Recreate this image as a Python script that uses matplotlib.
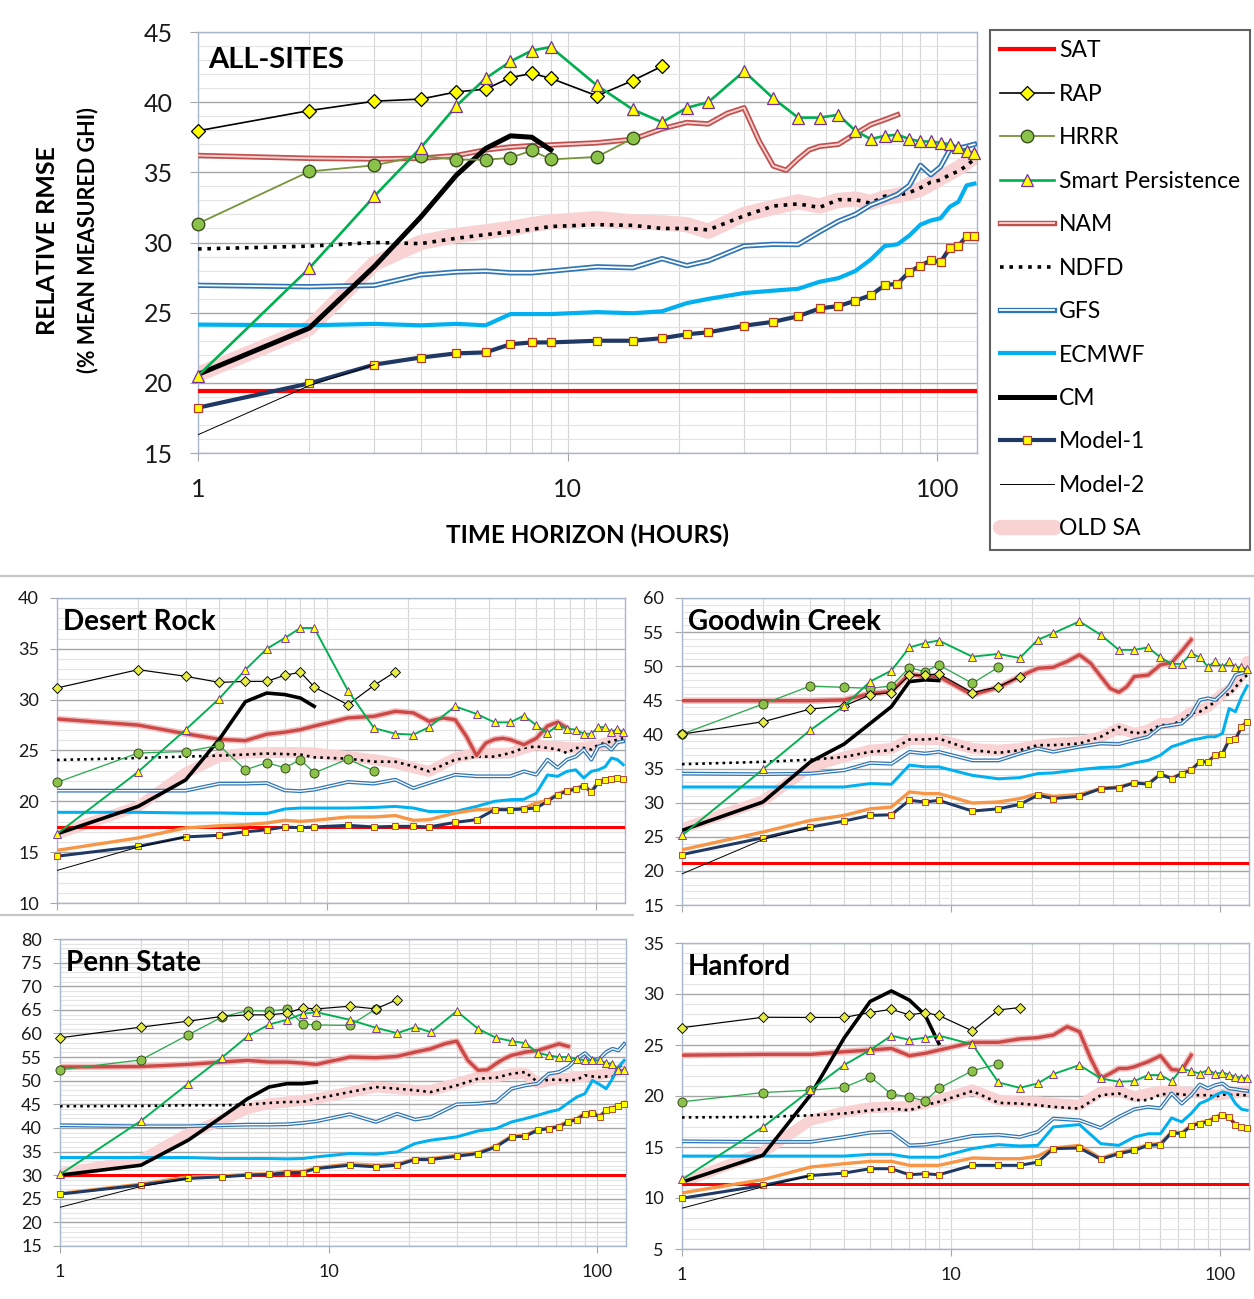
import matplotlib
matplotlib.use('Agg')
import matplotlib.pyplot as plt
import matplotlib.patheffects as pe
from matplotlib.lines import Line2D
from matplotlib.ticker import FixedLocator, MultipleLocator, NullFormatter

plt.rcParams['font.family'] = ['Lato', 'DejaVu Sans']

# forecast horizons (hours) used by each kind of series
h_cm = [1, 2, 3, 4, 5, 6, 7, 8, 9]
h_rap = [1, 2, 3, 4, 5, 6, 7, 8, 9, 12, 15, 18]
h_hrrr = [1, 2, 3, 4, 5, 6, 7, 8, 9, 12, 15]
h_nam = [1, 2, 3, 4, 5, 6, 7, 8, 9, 12, 15, 18, 21, 24, 27, 30, 33, 36, 39, 42, 45, 48,
         54, 60, 66, 72, 78]
h_long = [1, 2, 3, 4, 5, 6, 7, 8, 9, 12, 15, 18, 21, 24, 30, 36, 42, 48, 54, 60, 66, 72,
          78, 84, 90, 96, 102, 108, 114, 120, 126]
h_m2 = [1, 2, 3]

# ---- ALL-SITES ----
all_sat = 19.4
all_rap = [37.96, 39.4, 40.07, 40.22, 40.73, 40.93, 41.75, 42.05, 41.7, 40.45, 41.54, 42.56]
all_hrrr = [31.35, 35.06, 35.5, 36.18, 35.9, 35.9, 36.03, 36.56, 35.92, 36.1, 37.42]
all_sp = [20.5, 28.17, 33.3, 36.74, 39.74, 41.7, 42.9, 43.68, 43.93, 41.19, 39.48, 38.57,
          39.6, 40.0, 42.2, 40.27, 38.9, 38.9, 39.1, 37.96, 37.37, 37.6, 37.68, 37.37, 37.2,
          37.2, 37.1, 37.0, 36.8, 36.5, 36.35]
all_nam = [36.2, 36.0, 35.95, 36.0, 36.2, 36.6, 36.8, 36.9, 36.95, 37.1, 37.35, 38.1, 38.55,
           38.45, 39.2, 39.6, 37.2, 35.45, 35.15, 35.95, 36.6, 36.85, 37.0, 37.75, 38.4,
           38.75, 39.1]
all_ndfd = [29.54, 29.74, 30.0, 29.92, 30.3, 30.56, 30.76, 30.94, 31.14, 31.27, 31.22, 31.0,
            31.0, 30.9, 31.9, 32.6, 32.75, 32.5, 33.05, 33.05, 32.8, 33.3, 33.36, 33.56,
            33.9, 34.3, 34.45, 34.83, 35.08, 35.47, 35.97]
all_gfs = [26.95, 26.85, 26.95, 27.7, 27.9, 27.96, 27.84, 27.84, 27.96, 28.27, 28.2, 28.85,
           28.35, 28.7, 29.75, 29.87, 29.85, 30.76, 31.52, 32.0, 32.67, 33.05, 33.43, 34.07,
           35.5, 34.83, 35.4, 36.6, 36.7, 36.85, 37.0]
all_ecmwf = [24.15, 24.1, 24.2, 24.1, 24.2, 24.1, 24.9, 24.9, 24.9, 25.04, 24.96, 25.1, 25.68,
             25.98, 26.4, 26.57, 26.7, 27.2, 27.46, 27.97, 28.78, 29.75, 29.87, 30.5, 31.27,
             31.57, 31.73, 32.54, 32.9, 34.07, 34.2]
all_cm = [20.6, 23.9, 28.3, 31.8, 34.8, 36.7, 37.6, 37.5, 36.6]
all_m1 = [18.23, 19.96, 21.3, 21.8, 22.1, 22.17, 22.75, 22.88, 22.88, 23.0, 23.0, 23.18,
          23.46, 23.6, 24.07, 24.35, 24.74, 25.3, 25.47, 25.85, 26.24, 26.95, 27.07, 27.9,
          28.35, 28.73, 28.6, 29.6, 29.75, 30.44, 30.44]
all_m2 = [16.3, 19.8, 21.3]
all_oldsa = [20.6, 23.9, 28.5, 30.0, 30.5, 30.76, 31.0, 31.27, 31.47, 31.7, 31.47, 31.4,
             31.27, 30.8, 32.0, 32.5, 32.9, 32.6, 33.0, 33.1, 32.85, 33.2, 33.35, 33.55,
             33.8, 34.2, 34.6, 34.96, 35.3, 35.7, 36.1]

# ---- Desert Rock ----
dr_sat = 17.5
dr_rap = [31.15, 32.95, 32.3, 31.7, 31.8, 31.8, 32.4, 32.7, 31.25, 29.5, 31.4, 32.75]
dr_hrrr = [21.87, 24.75, 24.9, 25.5, 23.1, 23.8, 23.3, 24.1, 22.8, 24.16, 23.0]
dr_sp = [16.8, 22.9, 27.05, 30.1, 32.95, 35.0, 36.07, 37.05, 37.05, 30.9, 27.2, 26.65, 26.56,
         27.3, 29.34, 28.6, 27.77, 27.77, 28.43, 27.48, 26.7, 27.48, 27.15, 27.05, 26.65,
         26.65, 27.3, 27.3, 26.8, 27.15, 26.8]
dr_nam = [28.1, 27.5, 26.65, 26.1, 25.97, 26.6, 26.8, 27.05, 27.4, 28.2, 28.36, 28.85, 28.7,
          27.87, 28.2, 28.03, 26.4, 24.5, 25.74, 26.1, 26.2, 26.07, 25.57, 26.2, 27.4, 27.8,
          27.2]
dr_ndfd = [24.07, 24.26, 24.4, 24.5, 24.6, 24.7, 24.65, 24.6, 24.33, 24.2, 23.9, 23.9, 23.44,
           22.95, 24.1, 24.4, 24.4, 24.75, 25.25, 25.4, 25.25, 25.1, 24.75, 25.25, 25.25,
           25.1, 25.57, 25.74, 25.9, 26.07, 26.2]
dr_gfs = [21.05, 21.05, 21.05, 21.74, 21.74, 21.8, 21.08, 21.0, 21.15, 21.9, 21.74, 22.13,
          21.3, 21.8, 22.62, 22.46, 22.46, 22.46, 22.95, 22.62, 24.1, 23.3, 24.1, 24.4, 25.08,
          24.1, 25.4, 25.57, 25.08, 25.8, 25.9]
dr_ecmwf = [18.92, 18.92, 18.85, 18.85, 18.8, 18.8, 19.25, 19.34, 19.34, 19.34, 19.4, 19.5,
            19.34, 19.0, 19.0, 19.5, 20.0, 20.16, 20.2, 20.8, 22.6, 22.46, 22.95, 23.1, 22.3,
            22.95, 23.1, 23.4, 24.26, 24.1, 23.6]
dr_cm = [16.8, 19.5, 22.1, 26.1, 29.8, 30.65, 30.5, 30.16, 29.34]
dr_m1 = [14.6, 15.57, 16.5, 16.66, 17.0, 17.2, 17.48, 17.4, 17.48, 17.64, 17.48, 17.54, 17.54,
         17.48, 17.93, 18.2, 19.18, 19.18, 19.25, 19.34, 20.0, 20.66, 21.0, 21.2, 21.54, 20.9,
         21.87, 22.13, 22.2, 22.3, 22.23]
dr_m3 = [15.18, 16.4, 17.38, 17.6, 17.7, 17.87, 18.13, 18.03, 18.13, 18.46, 18.46, 18.6,
         18.13, 18.2, 18.85, 19.18, 19.25, 19.25, 19.34, 19.84, 20.1, 20.75, 21.1, 21.3, 21.6,
         21.0, 21.95, 22.2, 22.3, 22.35, 22.3]
dr_m2 = [13.2, 15.5, 16.5]
dr_oldsa = [16.8, 19.5, 22.8, 24.4, 24.75, 24.8, 24.8, 24.8, 24.75, 24.4, 24.1, 23.76, 23.3,
            22.95, 24.26, 24.75, 24.7, 24.75, 25.2, 25.57, 25.4, 25.4, 25.3, 25.25, 25.3,
            25.4, 25.5, 25.74, 25.9, 26.07, 26.4]

# ---- Goodwin Creek ----
gc_sat = 21.2
gc_rap = [40.05, 41.86, 43.73, 44.17, 45.8, 46.13, 48.7, 48.7, 48.87, 46.13, 47.0, 48.48]
gc_hrrr = [40.05, 44.46, 47.1, 46.9, 46.76, 47.1, 49.8, 49.2, 50.2, 47.5, 49.85]
gc_sp = [25.2, 34.9, 40.64, 44.17, 47.75, 49.36, 52.75, 53.4, 53.77, 51.4, 51.8, 51.2, 53.87,
         54.85, 56.57, 54.6, 52.4, 52.4, 52.75, 51.3, 50.34, 50.34, 51.9, 51.3, 49.95, 50.7,
         49.85, 50.7, 49.85, 49.85, 49.56]
gc_nam = [44.95, 44.95, 44.95, 45.05, 46.0, 46.27, 48.87, 48.48, 48.48, 45.8, 46.9, 48.48,
          49.7, 49.85, 50.7, 51.67, 50.44, 48.5, 46.76, 46.18, 47.0, 48.5, 48.7, 50.2, 50.5,
          52.2, 53.87]
gc_ndfd = [35.64, 35.98, 36.3, 36.7, 37.45, 37.7, 39.26, 39.26, 39.4, 37.7, 37.3, 37.7, 38.43,
           38.43, 38.67, 39.66, 41.1, 40.15, 40.4, 41.37, 41.37, 42.1, 43.1, 43.33, 44.07,
           44.8, 46.0, 45.8, 46.9, 48.0, 48.7]
gc_gfs = [34.26, 34.17, 34.26, 34.75, 35.83, 35.7, 37.45, 37.2, 37.45, 36.2, 36.2, 37.2, 37.94,
          37.45, 38.2, 38.67, 38.58, 39.17, 39.66, 41.1, 41.37, 41.6, 42.84, 45.05, 45.3,
          45.05, 46.0, 47.0, 48.7, 48.97, 49.2]
gc_ecmwf = [32.3, 32.3, 32.3, 32.3, 32.8, 32.7, 35.5, 35.25, 35.25, 34.0, 33.5, 33.67, 34.26,
            34.36, 34.85, 35.15, 35.25, 35.83, 36.2, 36.96, 38.2, 38.67, 39.17, 39.4, 39.66,
            39.66, 40.15, 43.8, 43.33, 45.5, 47.1]
gc_cm = [25.93, 30.1, 35.98, 38.58, 41.6, 44.07, 47.75, 48.0, 47.9]
gc_m1 = [22.4, 24.85, 26.42, 27.3, 28.13, 28.23, 30.34, 30.1, 30.34, 28.77, 29.1, 29.75,
         31.08, 30.6, 30.93, 32.06, 32.2, 32.9, 32.7, 34.17, 33.53, 34.26, 34.75, 35.98,
         35.98, 36.96, 37.2, 39.17, 39.26, 41.1, 41.86]
gc_m3 = [23.1, 25.7, 27.4, 28.13, 29.1, 29.36, 31.57, 31.33, 31.33, 29.95, 30.1, 30.6, 31.33,
         30.93, 31.2, 32.06, 32.3, 32.95, 32.8, 34.2, 33.6, 34.3, 34.8, 36.0, 36.0, 37.0,
         37.25, 39.2, 39.3, 41.15, 41.9]
gc_m2 = [19.56, 24.6, 26.4]
gc_oldsa = [26.2, 30.3, 35.25, 36.7, 37.7, 37.94, 39.26, 39.26, 39.26, 37.94, 37.7, 37.94,
            38.43, 38.67, 38.9, 39.66, 40.9, 40.15, 40.64, 41.6, 41.6, 42.3, 43.3, 43.57,
            44.07, 45.05, 46.0, 46.5, 47.5, 48.7, 50.7]

# ---- Penn State ----
ps_sat = 30.0
ps_rap = [59.08, 61.34, 62.6, 63.6, 63.94, 63.94, 64.3, 65.4, 65.2, 65.77, 65.2, 67.18]
ps_hrrr = [52.3, 54.4, 59.7, 63.45, 64.86, 64.7, 65.2, 62.0, 61.8, 61.7, 65.2]
ps_sp = [30.14, 41.48, 49.37, 54.86, 59.44, 61.9, 62.89, 64.15, 64.5, 62.9, 61.2, 60.07, 61.34,
         60.28, 64.72, 61.0, 59.08, 58.38, 57.96, 55.9, 55.35, 55.0, 55.0, 54.65, 54.3, 54.4,
         54.3, 53.73, 53.6, 52.3, 52.2]
ps_nam = [52.9, 53.0, 53.45, 53.94, 54.3, 53.94, 53.94, 53.73, 53.45, 55.0, 54.86, 55.14,
          56.06, 56.76, 57.8, 58.38, 54.3, 52.2, 52.3, 53.6, 54.65, 55.35, 56.06, 56.4, 57.1,
          57.8, 57.25]
ps_ndfd = [44.58, 44.65, 44.8, 44.8, 44.93, 45.28, 45.5, 45.5, 46.2, 47.6, 48.66, 48.3, 47.96,
           47.6, 49.0, 50.42, 50.63, 51.48, 51.83, 49.7, 50.2, 50.2, 50.07, 50.2, 51.13, 50.9,
           50.77, 50.9, 50.77, 52.9, 53.6]
ps_gfs = [40.56, 40.35, 40.35, 40.56, 40.7, 40.7, 40.77, 41.06, 41.4, 42.9, 41.27, 43.0,
          41.76, 42.3, 45.0, 45.14, 45.5, 48.3, 49.0, 49.37, 51.48, 51.83, 52.9, 54.65, 55.85,
          54.3, 54.65, 56.06, 56.76, 56.4, 57.8]
ps_ecmwf = [33.73, 33.73, 33.73, 33.52, 33.52, 33.52, 33.45, 33.52, 33.87, 34.58, 34.44,
            34.93, 36.7, 37.4, 38.1, 39.37, 39.86, 41.27, 41.97, 42.68, 43.38, 43.87, 45.28,
            46.55, 47.25, 50.07, 49.2, 48.3, 50.42, 52.9, 54.3]
ps_cm = [30.0, 32.1, 37.4, 42.3, 46.2, 48.66, 49.37, 49.37, 49.7]
ps_m1 = [25.99, 27.9, 29.3, 29.65, 30.0, 30.14, 30.5, 30.56, 31.4, 32.1, 31.76, 32.1, 33.3,
         33.3, 34.0, 34.58, 35.99, 38.1, 38.24, 39.5, 39.86, 40.2, 41.27, 41.76, 43.0, 43.17,
         42.3, 43.7, 44.1, 44.58, 45.14]
ps_m3 = [26.1, 28.1, 29.65, 29.8, 30.2, 30.3, 30.8, 30.8, 31.55, 32.4, 32.1, 32.3, 33.5, 33.5,
         34.2, 34.8, 36.2, 38.3, 38.4, 39.7, 40.0, 40.4, 41.5, 42.0, 43.2, 43.4, 42.5, 43.9,
         44.3, 44.8, 45.4]
ps_m2 = [23.2, 27.6, 29.3]
ps_oldsa = [30.35, 33.2, 38.8, 41.6, 44.1, 45.14, 45.5, 45.8, 46.2, 47.6, 48.66, 48.3, 47.96,
            47.96, 49.37, 50.8, 50.8, 51.48, 51.48, 49.5, 50.0, 50.4, 50.5, 50.8, 50.9, 51.1,
            51.2, 51.48, 51.8, 52.18, 52.9]

# ---- Hanford ----
hf_sat = 11.4
hf_rap = [26.7, 27.72, 27.7, 27.7, 28.18, 28.5, 27.95, 28.18, 27.9, 26.38, 28.44, 28.67]
hf_hrrr = [19.43, 20.34, 20.57, 20.84, 21.9, 20.18, 19.92, 19.5, 20.74, 22.48, 23.13]
hf_sp = [11.82, 16.97, 20.57, 23.03, 24.5, 25.92, 25.5, 25.72, 25.92, 25.07, 21.33, 20.8,
         21.23, 22.15, 23.03, 21.72, 21.4, 21.46, 22.05, 22.05, 21.46, 22.7, 22.44, 22.2,
         22.54, 22.2, 22.3, 22.1, 21.9, 21.8, 21.72]
hf_nam = [24.0, 24.08, 24.08, 24.34, 24.5, 24.67, 23.95, 24.18, 24.5, 25.26, 25.26, 25.6,
          25.72, 25.98, 26.8, 26.3, 23.7, 21.72, 22.2, 22.7, 22.7, 22.87, 23.36, 23.95, 22.6,
          22.5, 24.0]
hf_ndfd = [17.9, 17.95, 18.1, 18.28, 18.6, 18.77, 18.6, 19.1, 19.43, 20.48, 19.33, 19.26,
           19.1, 18.93, 18.77, 20.08, 20.25, 19.6, 19.6, 20.15, 20.25, 20.15, 20.08, 20.08,
           20.08, 19.92, 20.15, 20.08, 20.15, 20.08, 20.08]
hf_gfs = [15.56, 15.5, 15.5, 15.98, 16.41, 16.48, 15.16, 15.23, 15.43, 16.08, 16.2, 15.98,
          16.48, 17.79, 17.62, 16.87, 17.95, 18.7, 18.93, 18.8, 20.25, 19.26, 20.08, 21.13,
          20.74, 21.07, 21.23, 20.74, 20.67, 20.57, 20.5]
hf_ecmwf = [14.11, 14.11, 14.11, 14.11, 14.28, 14.28, 14.0, 14.0, 14.0, 14.84, 15.23, 15.1,
            15.16, 16.97, 17.2, 15.33, 15.16, 15.98, 16.3, 16.3, 17.85, 17.46, 18.28, 19.26,
            19.6, 20.08, 20.4, 20.25, 19.26, 18.7, 18.6]
hf_cm = [11.56, 14.2, 20.08, 25.66, 29.26, 30.3, 29.4, 27.95, 25.16]
hf_m1 = [9.98, 11.23, 12.2, 12.44, 12.87, 12.87, 12.28, 12.38, 12.28, 13.2, 13.2, 13.2, 13.52,
         14.84, 14.9, 13.8, 14.34, 14.67, 15.16, 15.23, 16.41, 16.3, 17.07, 17.3, 17.46,
         17.89, 18.18, 17.95, 17.13, 16.97, 16.87]
hf_m3 = [10.5, 11.8, 13.03, 13.36, 13.59, 13.59, 13.2, 13.2, 13.2, 13.92, 13.85, 13.85, 14.1,
         14.9, 15.16, 13.9, 14.45, 14.8, 15.25, 15.35, 16.5, 16.4, 17.15, 17.4, 17.55, 17.95,
         18.25, 18.0, 17.2, 17.0, 16.9]
hf_m2 = [9.0, 11.1, 12.2]
hf_oldsa = [11.56, 14.5, 17.62, 18.44, 18.84, 18.93, 18.95, 19.26, 19.6, 20.6, 19.6, 19.43,
            19.43, 19.26, 19.1, 20.4, 20.48, 19.92, 20.25, 20.48, 20.45, 20.4, 20.35, 20.3,
            20.2, 20.08, 20.15, 20.25, 20.3, 20.48, 20.48]

W, H = 1254, 1299


def box(left, top, right, bottom):
    return [left / W, 1 - bottom / H, (right - left) / W, (bottom - top) / H]


def draw_site(ax, s, big):
    k = 1.0 if big else 0.72
    out = {}
    out['OLD SA'], = ax.plot(h_long, s['oldsa'], color='#F9D3D3', lw=11 * k,
                             solid_capstyle='round', zorder=2)
    out['SAT'] = ax.axhline(s['sat'], color='#FF0000', lw=3.0 * k, zorder=3)
    out['NDFD'], = ax.plot(h_long, s['ndfd'], color='black', lw=2.6 * k,
                           ls=(0, (1, 1.6)), zorder=4)
    out['GFS'], = ax.plot(h_long, s['gfs'], color='white', lw=1.3 * k, zorder=4,
                          path_effects=[pe.Stroke(linewidth=3.8 * k, foreground='#2E75B6'),
                                        pe.Normal()])
    out['ECMWF'], = ax.plot(h_long, s['ecmwf'], color='#00B0F0', lw=3.0 * k, zorder=4)
    if big:
        out['NAM'], = ax.plot(h_nam, s['nam'], color='#F7CFCF', lw=1.4, zorder=5,
                              path_effects=[pe.Stroke(linewidth=3.9, foreground='#C0504D'),
                                            pe.Normal()])
    else:
        ax.plot(h_nam, s['nam'], color='#CB4A48', lw=2.4, zorder=5,
                path_effects=[pe.Stroke(linewidth=4.6, foreground='#F1BDBD'), pe.Normal()])
        ax.plot(h_long, s['m3'], color='#F79646', lw=2.4, zorder=5)
    out['Model-1'], = ax.plot(h_long, s['m1'], color='#1F3864', lw=3.0 * k, marker='s',
                              ms=5.5 * k, mfc='#FFFF00', mec='#B03A2E', mew=0.9 * k,
                              zorder=6, clip_on=False)
    out['Model-2'], = ax.plot(h_m2, s['m2'], color='black', lw=0.7, zorder=6)
    out['CM'], = ax.plot(h_cm, s['cm'], color='black', lw=3.6 * k, zorder=7)
    out['HRRR'], = ax.plot(h_hrrr, s['hrrr'], color='#77933C' if big else '#2EA84F',
                           lw=1.3 * k, marker='o', ms=9 * k, mfc='#8BC34A',
                           mec='#3B4F1C', mew=1.0 * k, zorder=8, clip_on=False)
    out['RAP'], = ax.plot(h_rap, s['rap'], color='black', lw=1.2 * k, marker='D',
                          ms=7.5 * k, mfc='#FFFF00' if big else '#E4EC45', mec='black',
                          mew=0.9 * k, zorder=8, clip_on=False)
    out['Smart Persistence'], = ax.plot(h_long, s['sp'], color='#00B050', lw=1.9 * k,
                                        marker='^', ms=8.5 * k, mfc='#FFFF00',
                                        mec='#7030A0', mew=0.9 * k, zorder=9,
                                        clip_on=False)
    return out


def style_axes(ax, ylo, yhi, minor_step, big):
    ax.set_xscale('log')
    ax.set_xlim(1, 128)
    ax.set_ylim(ylo, yhi)
    ax.yaxis.set_major_locator(MultipleLocator(5))
    ax.yaxis.set_minor_locator(MultipleLocator(minor_step))
    ax.xaxis.set_major_locator(FixedLocator([1, 10, 100]))
    ax.xaxis.set_minor_locator(FixedLocator([2, 3, 4, 5, 6, 7, 8, 9,
                                             20, 30, 40, 50, 60, 70, 80, 90]))
    ax.xaxis.set_minor_formatter(NullFormatter())
    ax.set_xticklabels(['1', '10', '100'])
    ax.set_axisbelow(True)
    ax.grid(which='major', axis='y', color='#A6A6A6', lw=1.0)
    ax.grid(which='minor', axis='y', color='#E4E4E4', lw=0.8)
    ax.grid(which='both', axis='x', color='#D6D6D6', lw=0.8)
    for sp in ax.spines.values():
        sp.set_color('#A9B7CC')
        sp.set_linewidth(1.0)
    fs = 18 if big else 13
    ax.tick_params(which='minor', length=0)
    ax.tick_params(which='major', direction='out', length=6 if big else 5,
                   color='#A6A6A6', labelsize=fs, labelcolor='#1A1A1A',
                   pad=12 if big else 8)


sites = {
    'all': dict(sat=all_sat, rap=all_rap, hrrr=all_hrrr, sp=all_sp, nam=all_nam,
                ndfd=all_ndfd, gfs=all_gfs, ecmwf=all_ecmwf, cm=all_cm, m1=all_m1,
                m2=all_m2, oldsa=all_oldsa),
    'dr': dict(sat=dr_sat, rap=dr_rap, hrrr=dr_hrrr, sp=dr_sp, nam=dr_nam, ndfd=dr_ndfd,
               gfs=dr_gfs, ecmwf=dr_ecmwf, cm=dr_cm, m1=dr_m1, m2=dr_m2, m3=dr_m3,
               oldsa=dr_oldsa),
    'gc': dict(sat=gc_sat, rap=gc_rap, hrrr=gc_hrrr, sp=gc_sp, nam=gc_nam, ndfd=gc_ndfd,
               gfs=gc_gfs, ecmwf=gc_ecmwf, cm=gc_cm, m1=gc_m1, m2=gc_m2, m3=gc_m3,
               oldsa=gc_oldsa),
    'ps': dict(sat=ps_sat, rap=ps_rap, hrrr=ps_hrrr, sp=ps_sp, nam=ps_nam, ndfd=ps_ndfd,
               gfs=ps_gfs, ecmwf=ps_ecmwf, cm=ps_cm, m1=ps_m1, m2=ps_m2, m3=ps_m3,
               oldsa=ps_oldsa),
    'hf': dict(sat=hf_sat, rap=hf_rap, hrrr=hf_hrrr, sp=hf_sp, nam=hf_nam, ndfd=hf_ndfd,
               gfs=hf_gfs, ecmwf=hf_ecmwf, cm=hf_cm, m1=hf_m1, m2=hf_m2, m3=hf_m3,
               oldsa=hf_oldsa),
}

fig = plt.figure(figsize=(W / 100, H / 100), dpi=100)

# main panel
ax0 = fig.add_axes(box(198, 32, 977, 453))
handles = draw_site(ax0, sites['all'], True)
style_axes(ax0, 15, 45, 1, True)
ax0.text(0.013, 0.965, 'ALL-SITES', transform=ax0.transAxes, fontsize=21,
         fontweight='bold', va='top', ha='left')
ax0.set_xlabel('TIME HORIZON (HOURS)', fontsize=17.5, fontweight='bold', labelpad=16)
fig.text(48 / W, 1 - 241 / H, 'RELATIVE RMSE', rotation=90, fontsize=18,
         fontweight='bold', ha='center', va='center')
fig.text(88 / W, 1 - 240 / H, '(% MEAN MEASURED GHI)', rotation=90, fontsize=15.5,
         fontweight='bold', ha='center', va='center')

order = ['SAT', 'RAP', 'HRRR', 'Smart Persistence', 'NAM', 'NDFD', 'GFS', 'ECMWF', 'CM',
         'Model-1', 'Model-2', 'OLD SA']
leg = fig.legend([handles[n] for n in order], order, loc='upper left',
                 bbox_to_anchor=(990 / W, 1 - 30 / H), frameon=True, fancybox=False,
                 edgecolor='#3A3A3A', fontsize=16.5, handlelength=2.35, handletextpad=0.2,
                 labelspacing=0.98, borderpad=0.45, borderaxespad=0, numpoints=1)
leg.get_frame().set_linewidth(1.5)

# site panels
panels = [
    ('dr', 'Desert Rock', box(57, 598, 625, 903), 10, 40, 1, False),
    ('gc', 'Goodwin Creek', box(682, 598, 1249, 905), 15, 60, 1, False),
    ('ps', 'Penn State', box(60, 939, 626, 1246), 15, 80, 1, True),
    ('hf', 'Hanford', box(682, 943, 1249, 1249), 5, 35, 1, True),
]
for key, title, rect, ylo, yhi, mstep, show_x in panels:
    ax = fig.add_axes(rect)
    draw_site(ax, sites[key], False)
    style_axes(ax, ylo, yhi, mstep, False)
    if not show_x:
        ax.set_xticklabels([])
    ax.text(0.01, 0.965, title, transform=ax.transAxes, fontsize=20, fontweight='bold',
            va='top', ha='left')

# separators between the blocks
fig.add_artist(Line2D([0, 1], [1 - 576 / H] * 2, transform=fig.transFigure,
                      color='#C8C8C8', lw=1.6))
fig.add_artist(Line2D([0, 633 / W], [1 - 915 / H] * 2, transform=fig.transFigure,
                      color='#C8C8C8', lw=1.6))

fig.savefig('out.png', dpi=100, facecolor='white')
